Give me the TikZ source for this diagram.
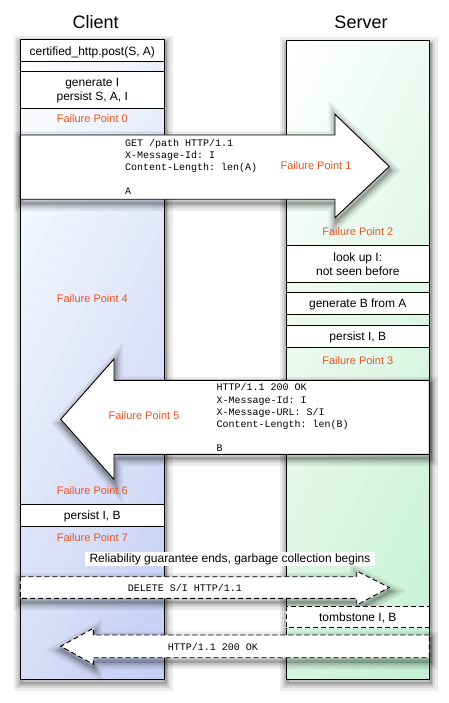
\documentclass[tikz,border=0pt]{standalone}
\usepackage{fontspec}
\setmainfont{Liberation Sans}
\setmonofont{Liberation Mono}
\usepackage{tikz}
\definecolor{clientblue}{HTML}{C3CDF4}
\definecolor{servergreen}{HTML}{C3F0D3}
\definecolor{failorange}{HTML}{EA5420}
\tikzset{
  softshadow/.style={
    preaction={draw=black, solid, draw opacity=0.07, line width=15pt, transform canvas={xshift=1pt,yshift=-4pt}},
    preaction={draw=black, solid, draw opacity=0.09, line width=10pt, transform canvas={xshift=1pt,yshift=-4pt}},
    preaction={draw=black, solid, draw opacity=0.12, line width=6pt, transform canvas={xshift=1pt,yshift=-4pt}},
    preaction={draw=black, solid, draw opacity=0.15, line width=2.5pt, transform canvas={xshift=1pt,yshift=-4pt}}},
  laneborder/.style={draw=black, line width=0.9pt},
  rowbox/.style={draw=black, fill=white, line width=0.9pt},
  blockarrow/.style={draw=black, fill=white, line width=0.9pt, softshadow},
  gcdash/.style={dash pattern=on 5pt off 3pt},
  lanetitle/.style={anchor=base, font=\fontsize{18}{21}\selectfont},
  boxtext/.style={anchor=base, font=\fontsize{12}{14}\selectfont},
  failure/.style={anchor=base, text=failorange, font=\fontsize{11}{13}\selectfont},
  msg/.style={anchor=base west, font=\ttfamily\fontsize{10}{12}\selectfont},
}

\begin{document}
\begin{tikzpicture}[x=1pt,y=-1pt]
\useasboundingbox (0,0) rectangle (449,703);

%Lanes
\node [lanetitle] (clientTitle) at (95.7,28.2) {Client};
\node [lanetitle] (serverTitle) at (361,28.5) {Server};
\path [softshadow] (20.3,39.3) rectangle (164.3,679);
\path [softshadow] (286.3,40.7) rectangle (429.3,679);
%diagonal fade, white at top left
\begin{scope}
\clip (20.3,39.3) rectangle (164.3,679);
\foreach \i in {0,...,42} {
  \pgfmathtruncatemacro{\pct}{min(100,\i*2.4)}
  \fill [clientblue!\pct!white, rotate around={-27:(20.3,39.3)}] (20.3+\i*10,-900) rectangle (30.8+\i*10,1000);
}
\end{scope}
\begin{scope}
\clip (286.3,40.7) rectangle (429.3,679);
\foreach \i in {0,...,42} {
  \pgfmathtruncatemacro{\pct}{min(100,\i*2.4)}
  \fill [servergreen!\pct!white, rotate around={-27:(286.3,40.7)}] (286.3+\i*10,-900) rectangle (296.8+\i*10,1000);
}
\end{scope}
\draw [laneborder] (20.3,39.3) rectangle (164.3,679);
\draw [laneborder] (286.3,40.7) rectangle (429.3,679);

%Client steps
\draw [rowbox] (20.3,39.3) rectangle (164.3,61.3);
\node [boxtext] (post) at (92.3,56) {certified\_http.post(S, A)};
\draw [rowbox] (20.3,71) rectangle (164.3,108.3);
\node [boxtext] (genI) at (92.3,86.6) {generate I};
\node [boxtext] (persistSAI) at (92.3,101) {persist S, A, I};
\node [failure] (fp0) at (92.3,122.9) {Failure Point 0};

%Request
\draw [blockarrow] (20.3,135) -- (335,135) -- (335,114.3) -- (389.3,166.5) -- (335,217.7) -- (335,199.3) -- (20.3,199.3) -- cycle;
\node [msg] (req1) at (121.7,146.8) {GET /path HTTP/1.1};
\node [msg] (req2) at (121.7,158.5) {X-Message-Id: I};
\node [msg] (req3) at (121.7,170.2) {Content-Length: len(A)};
\node [msg] (req4) at (121.7,194.5) {A};
\node [failure] (fp1) at (316,169.9) {Failure Point 1};

%Server steps
\node [failure] (fp2) at (357.8,235.6) {Failure Point 2};
\draw [rowbox] (286.3,245) rectangle (429.3,282.3);
\node [boxtext] (lookup) at (357.8,261) {look up I:};
\node [boxtext] (notseen) at (357.8,275) {not seen before};
\draw [rowbox] (286.3,292.3) rectangle (429.3,314.3);
\node [boxtext] (genB) at (357.8,307.6) {generate B from A};
\draw [rowbox] (286.3,325.7) rectangle (429.3,347.3);
\node [boxtext] (persistSrv) at (357.8,340) {persist I, B};
\node [failure] (fp3) at (357.8,364.6) {Failure Point 3};
\node [failure] (fp4) at (92.3,302.9) {Failure Point 4};

%Response
\draw [blockarrow] (429.3,380.3) -- (114,380.3) -- (114,359) -- (60.7,419.3) -- (114,479.5) -- (114,454.3) -- (429.3,454.3) -- cycle;
\node [msg] (resp1) at (213,390.8) {HTTP/1.1 200 OK};
\node [msg] (resp2) at (213,403.2) {X-Message-Id: I};
\node [msg] (resp3) at (213,415.2) {X-Message-URL: S/I};
\node [msg] (resp4) at (213,427.2) {Content-Length: len(B)};
\node [msg] (resp5) at (213,451.8) {B};
\node [failure] (fp5) at (144,419.6) {Failure Point 5};

%Client commit
\node [failure] (fp6) at (92.3,494.9) {Failure Point 6};
\draw [rowbox] (20.3,504.3) rectangle (164.3,526);
\node [boxtext] (persistCli) at (92.3,519.3) {persist I, B};
\node [failure] (fp7) at (92.3,541.9) {Failure Point 7};
\node [boxtext, fill=white, inner xsep=5pt, inner ysep=1.5pt] (gc) at (230,562) {Reliability guarantee ends, garbage collection begins};

%Garbage collection
\draw [blockarrow, gcdash] (20.3,576.7) -- (356.7,576.7) -- (356.7,571) -- (389.3,587.5) -- (356.7,605) -- (356.7,598.3) -- (20.3,598.3) -- cycle;
\node [msg] (del) at (124.3,591.5) {DELETE S/I HTTP/1.1};
\draw [rowbox, gcdash] (286.3,606) rectangle (429.3,627.7);
\node [boxtext] (tomb) at (357.8,621.3) {tombstone I, B};
\draw [blockarrow, gcdash] (429.3,635) -- (93.3,635) -- (93.3,628.3) -- (60.7,646.3) -- (93.3,664.3) -- (93.3,657.7) -- (429.3,657.7) -- cycle;
\node [msg] (ok) at (164.3,650.5) {HTTP/1.1 200 OK};

\end{tikzpicture}
\end{document}
